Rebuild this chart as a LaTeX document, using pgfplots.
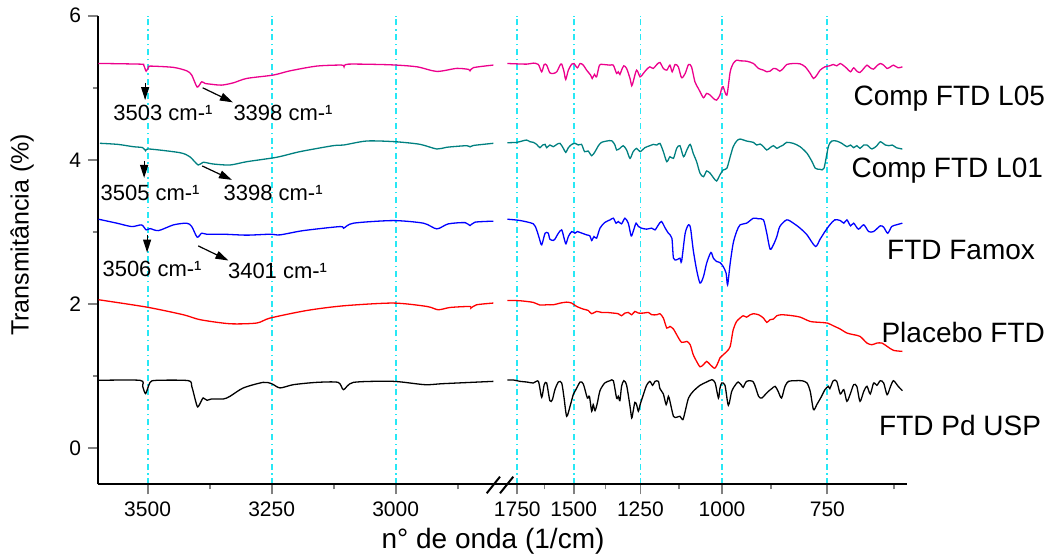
\documentclass[border=0pt]{standalone}
\usepackage{fontspec}
\setmainfont{Liberation Sans}
\usepackage{pgfplots}
\pgfplotsset{compat=1.18}
\usetikzlibrary{arrows.meta}

\definecolor{tealc}{RGB}{0,128,128}
\definecolor{gridc}{RGB}{40,232,245}

\pgfplotsset{
  ftir/.style={
    scale only axis, height=234.3pt, ymin=-0.5, ymax=6,
    axis x line*=bottom, x dir=reverse,
    tick align=outside, major tick length=5pt, minor tick length=2.5pt,
    tick style={line width=0.9pt},
    axis line style={line width=1pt},
    xmajorgrids,
    grid style={draw=gridc, line width=0.9pt, dash pattern=on 3pt off 1.8pt on 0.8pt off 1.8pt},
    major grid style={draw=gridc},
    tick label style={font=\fontsize{10.5}{12}\selectfont},
    /pgf/number format/assume math mode=true,
    /pgf/number format/1000 sep={},
    clip=false,
    every axis plot/.append style={line width=0.65pt, no marks, smooth, tension=0.45},
  },
}
\tikzset{
  note/.style={font=\fontsize{11}{13}\selectfont},
  pk/.style={-{Triangle[length=6.5pt,width=4pt]}, line width=0.6pt},
}

\begin{document}
\begin{tikzpicture}
\path[use as bounding box] (0,0) rectangle (529pt,278pt);

% left segment: 3600-2800 cm-1
\begin{axis}[ftir, at={(49pt,35.85pt)}, anchor=south west, width=199.65pt,
  xmin=2795, xmax=3600, axis y line*=left,
  xtick={3000,3250,3500}, minor xtick={2875,3125,3375},
  ytick={0,2,4,6}, minor ytick={1,3,5}]
\addplot[magenta] coordinates {
(3599,5.338) (3515,5.328) (3508,5.315) (3503,5.231) (3498,5.285) (3495,5.301) (3448,5.283)
(3421,5.235) (3411,5.176) (3400,5.010) (3391,5.083) (3384,5.060) (3374,5.051) (3351,5.037)
(3327,5.069) (3300,5.130) (3247,5.176) (3213,5.235) (3159,5.301) (3109,5.315) (3104,5.291)
(3095,5.328) (3011,5.319) (2957,5.291) (2917,5.227) (2877,5.269) (2853,5.255) (2850,5.235)
(2843,5.280) (2803,5.315)};
\addplot[tealc] coordinates {
(3596,4.230) (3560,4.215) (3529,4.183) (3510,4.170) (3504,4.127) (3497,4.151) (3435,4.100)
(3415,4.044) (3398,3.929) (3388,3.967) (3368,3.943) (3334,3.929) (3300,3.975) (3240,4.036)
(3193,4.114) (3126,4.197) (3105,4.206) (3058,4.262) (3001,4.252) (2951,4.216) (2917,4.151)
(2897,4.175) (2857,4.197) (2850,4.180) (2843,4.200) (2803,4.230)};
\addplot[blue] coordinates {
(3599,3.177) (3562,3.122) (3532,3.075) (3512,3.098) (3503,3.029) (3495,3.047) (3478,3.019)
(3448,3.098) (3421,3.122) (3411,3.075) (3400,2.928) (3391,2.983) (3381,2.969) (3347,2.969)
(3300,2.956) (3253,2.969) (3233,2.960) (3186,3.019) (3112,3.075) (3105,3.052) (3085,3.122)
(3005,3.158) (2944,3.122) (2917,3.043) (2894,3.112) (2860,3.130) (2850,3.089) (2840,3.136)
(2803,3.150)};
\addplot[red] coordinates {
(3599,2.060) (3502,1.958) (3428,1.852) (3394,1.783) (3334,1.727) (3280,1.737) (3253,1.806)
(3179,1.911) (3105,1.976) (3005,2.014) (2937,1.967) (2914,1.921) (2890,1.953) (2850,1.967)
(2848,1.945) (2837,1.990) (2803,2.014)};
\addplot[black] coordinates {
(3599,0.942) (3515,0.942) (3510,0.859) (3504,0.758) (3495,0.914) (3482,0.942) (3418,0.938)
(3411,0.859) (3404,0.675) (3399,0.573) (3392,0.651) (3388,0.698) (3380,0.665) (3371,0.684)
(3347,0.684) (3334,0.720) (3307,0.837) (3267,0.914) (3250,0.896) (3233,0.837) (3206,0.882)
(3159,0.914) (3116,0.914) (3105,0.813) (3085,0.914) (3005,0.928) (2941,0.882) (2904,0.896)
(2803,0.928)};
% peak notes
\draw[pk] (axis cs:3505,5.069) -- (axis cs:3505,4.830);
\node[note] at (axis cs:3469,4.650) {3503 cm-¹};
\draw[pk] (axis cs:3389,5.000) -- (axis cs:3328,4.798);
\node[note] at (axis cs:3227,4.650) {3398 cm-¹};
\draw[pk] (axis cs:3507,3.985) -- (axis cs:3507,3.749);
\node[note] at (axis cs:3495,3.542) {3505 cm-¹};
\draw[pk] (axis cs:3390,3.916) -- (axis cs:3330,3.722);
\node[note] at (axis cs:3247,3.542) {3398 cm-¹};
\draw[pk] (axis cs:3501,2.960) -- (axis cs:3501,2.715);
\node[note] at (axis cs:3491,2.482) {3506 cm-¹};
\draw[pk] (axis cs:3398,2.807) -- (axis cs:3337,2.604);
\node[note] at (axis cs:3238,2.454) {3401 cm-¹};
\end{axis}

% right segment: 1800-600 cm-1
\begin{axis}[ftir, at={(253.5pt,35.85pt)}, anchor=south west, width=199.8pt,
  xmode=log, xmin=604, xmax=1800, axis y line=none, ytick=\empty,
  xtick={750,1000,1250,1500,1750}, xticklabels={750,1000,1250,1500,1750},
  minor xtick={625,875,1125,1375,1625}]
\addplot[magenta] coordinates {
(1798,5.337) (1706,5.328) (1675,5.342) (1652,5.323) (1637,5.222) (1626,5.323) (1615,5.314)
(1601,5.208) (1586,5.199) (1571,5.222) (1557,5.314) (1550,5.328) (1540,5.222) (1533,5.115)
(1522,5.245) (1508,5.328) (1499,5.337) (1485,5.277) (1474,5.337) (1461,5.314) (1448,5.245)
(1432,5.175) (1426,5.129) (1417,5.185) (1409,5.152) (1398,5.314) (1384,5.323) (1358,5.314)
(1346,5.314) (1334,5.199) (1328,5.222) (1322,5.185) (1316,5.245) (1308,5.305) (1298,5.268)
(1286,5.129) (1280,5.028) (1275,5.083) (1263,5.245) (1251,5.152) (1240,5.199) (1229,5.254)
(1218,5.291) (1207,5.268) (1195,5.323) (1185,5.351) (1174,5.268) (1163,5.245) (1153,5.314)
(1146,5.222) (1137,5.323) (1127,5.291) (1117,5.139) (1106,5.199) (1096,5.323) (1087,5.291)
(1077,5.083) (1067,4.991) (1062,4.945) (1052,4.862) (1043,4.922) (1033,4.898) (1024,4.852)
(1015,4.829) (1006,4.898) (1001,4.991) (997,5.014) (987,4.898) (978,5.222) (970,5.337)
(961,5.383) (952,5.374) (935,5.369) (918,5.337) (905,5.268) (893,5.245) (885,5.222)
(877,5.231) (869,5.268) (861,5.259) (854,5.231) (846,5.268) (838,5.323) (823,5.337)
(808,5.332) (797,5.291) (786,5.199) (779,5.129) (772,5.175) (765,5.245) (755,5.291)
(745,5.305) (738,5.323) (731,5.305) (724,5.337) (717,5.305) (711,5.268) (704,5.222)
(698,5.277) (692,5.231) (686,5.212) (679,5.268) (673,5.314) (667,5.277) (661,5.259)
(655,5.305) (649,5.337) (643,5.314) (637,5.268) (631,5.291) (626,5.314) (618,5.277)
(611,5.291)};
\addplot[tealc] coordinates {
(1798,4.238) (1753,4.243) (1728,4.261) (1706,4.275) (1690,4.252) (1675,4.243) (1660,4.215)
(1645,4.169) (1633,4.206) (1622,4.215) (1615,4.169) (1601,4.206) (1586,4.183) (1571,4.215)
(1557,4.229) (1543,4.160) (1533,4.104) (1522,4.169) (1508,4.215) (1494,4.229) (1481,4.206)
(1468,4.215) (1456,4.114) (1442,4.123) (1428,4.058) (1415,4.114) (1402,4.197) (1390,4.243)
(1371,4.261) (1352,4.266) (1340,4.206) (1334,4.137) (1322,4.160) (1310,4.197) (1298,4.137)
(1286,4.021) (1275,4.114) (1263,4.160) (1251,4.114) (1235,4.169) (1218,4.197) (1207,4.215)
(1195,4.206) (1185,4.229) (1174,4.114) (1163,3.975) (1153,4.044) (1142,4.021) (1132,4.160)
(1122,4.197) (1111,4.044) (1101,4.137) (1091,4.215) (1082,4.091) (1072,3.975) (1062,3.814)
(1052,3.767) (1043,3.846) (1033,3.814) (1024,3.754) (1015,3.707) (1006,3.790) (997,3.860)
(987,3.883) (978,4.044) (970,4.183) (961,4.261) (952,4.289) (935,4.261) (918,4.243)
(910,4.206) (901,4.220) (893,4.183) (885,4.137) (877,4.169) (869,4.197) (861,4.160)
(854,4.183) (846,4.206) (838,4.243) (823,4.229) (808,4.183) (793,4.091) (782,3.975)
(775,3.883) (765,3.869) (757,3.883) (748,4.183) (741,4.261) (731,4.261) (721,4.229)
(711,4.183) (704,4.206) (698,4.169) (692,4.197) (686,4.160) (679,4.206) (673,4.206)
(664,4.151) (655,4.197) (649,4.252) (640,4.206) (634,4.197) (628,4.206) (621,4.169)
(611,4.151)};
\addplot[blue] coordinates {
(1798,3.177) (1737,3.159) (1675,3.113) (1660,3.029) (1648,2.914) (1637,2.822) (1622,2.983)
(1608,2.983) (1601,2.900) (1586,2.882) (1579,2.900) (1564,2.983) (1550,3.029) (1540,2.914)
(1532,2.836) (1522,2.937) (1508,3.006) (1495,2.983) (1485,3.006) (1474,2.993) (1448,2.960)
(1435,2.946) (1428,2.882) (1419,2.937) (1409,2.914) (1396,3.053) (1378,3.131) (1358,3.168)
(1346,3.191) (1336,3.122) (1328,3.145) (1316,3.113) (1304,3.191) (1292,3.122) (1282,2.946)
(1275,3.006) (1265,3.122) (1257,3.076) (1246,3.053) (1229,3.039) (1212,3.053) (1201,3.029)
(1190,3.099) (1180,3.145) (1168,3.053) (1158,2.983) (1147,2.914) (1142,2.637) (1132,2.614)
(1122,2.637) (1117,2.591) (1106,2.983) (1096,3.099) (1090,3.053) (1082,2.752) (1072,2.475)
(1062,2.291) (1052,2.383) (1043,2.568) (1031,2.716) (1024,2.637) (1015,2.591) (1006,2.577)
(997,2.522) (989,2.429) (985,2.268) (978,2.568) (970,2.845) (961,3.006) (952,3.099)
(935,3.122) (918,3.191) (905,3.182) (893,3.168) (885,2.983) (877,2.762) (869,2.822)
(861,2.937) (854,3.076) (838,3.168) (823,3.122) (808,3.053) (793,2.960) (775,2.799)
(765,2.900) (755,3.006) (745,3.099) (735,3.168) (724,3.159) (717,3.122) (711,3.168)
(704,3.085) (698,3.122) (689,3.039) (679,3.099) (670,3.006) (661,3.006) (649,3.085)
(643,3.066) (636,2.983) (629,3.076) (621,3.099) (611,3.122)};
\addplot[red] coordinates {
(1798,2.050) (1737,2.046) (1675,2.023) (1645,1.986) (1615,1.990) (1586,1.990) (1557,2.013)
(1529,2.027) (1508,2.013) (1488,1.967) (1461,1.930) (1442,1.912) (1428,1.866) (1409,1.898)
(1390,1.884) (1371,1.884) (1346,1.875) (1328,1.866) (1316,1.838) (1304,1.875) (1292,1.884)
(1280,1.852) (1269,1.898) (1257,1.875) (1240,1.875) (1223,1.884) (1212,1.852) (1195,1.852)
(1185,1.866) (1174,1.806) (1163,1.667) (1153,1.690) (1142,1.653) (1132,1.575) (1117,1.469)
(1101,1.482) (1091,1.436) (1082,1.298) (1072,1.205) (1062,1.130) (1052,1.160) (1043,1.205)
(1033,1.160) (1020,1.110) (1010,1.200) (1006,1.252) (987,1.344) (978,1.413) (970,1.644)
(961,1.759) (952,1.806) (944,1.838) (935,1.819) (926,1.852) (918,1.866) (905,1.852)
(893,1.806) (885,1.746) (877,1.783) (869,1.792) (861,1.838) (850,1.852) (830,1.842)
(808,1.819) (786,1.759) (765,1.746) (750,1.736) (738,1.699) (724,1.653) (711,1.598)
(698,1.575) (686,1.552) (673,1.459) (664,1.436) (655,1.459) (646,1.459) (637,1.413)
(626,1.358) (611,1.344)};
\addplot[black] coordinates {
(1798,0.947) (1769,0.947) (1737,0.928) (1706,0.919) (1675,0.905) (1652,0.928) (1637,0.707)
(1626,0.882) (1615,0.905) (1601,0.660) (1590,0.674) (1579,0.813) (1564,0.919) (1550,0.905)
(1540,0.697) (1529,0.443) (1515,0.582) (1501,0.753) (1491,0.813) (1474,0.919) (1461,0.891)
(1445,0.697) (1437,0.720) (1428,0.513) (1422,0.605) (1415,0.522) (1406,0.628) (1396,0.799)
(1378,0.905) (1358,0.937) (1346,0.937) (1334,0.697) (1328,0.720) (1322,0.660) (1316,0.859)
(1308,0.937) (1298,0.873) (1286,0.582) (1280,0.420) (1275,0.513) (1269,0.637) (1263,0.605)
(1257,0.513) (1251,0.605) (1240,0.743) (1229,0.873) (1218,0.928) (1209,0.873) (1201,0.928)
(1190,0.928) (1185,0.827) (1174,0.753) (1165,0.605) (1158,0.720) (1153,0.651) (1142,0.443)
(1132,0.430) (1122,0.443) (1113,0.397) (1106,0.513) (1096,0.697) (1082,0.790) (1062,0.873)
(1043,0.919) (1028,0.951) (1019,0.905) (1010,0.697) (1006,0.827) (1001,0.905) (992,0.873)
(983,0.596) (974,0.790) (965,0.873) (957,0.919) (948,0.873) (944,0.845) (935,0.928)
(918,0.919) (905,0.720) (897,0.697) (889,0.743) (881,0.790) (873,0.827) (865,0.859)
(858,0.790) (850,0.697) (842,0.859) (834,0.928) (819,0.937) (804,0.937) (793,0.905)
(786,0.790) (779,0.536) (772,0.605) (762,0.720) (755,0.813) (748,0.859) (745,0.827)
(738,0.937) (731,0.928) (724,0.753) (717,0.813) (711,0.651) (704,0.763) (698,0.882)
(692,0.859) (686,0.651) (679,0.790) (673,0.859) (667,0.753) (661,0.905) (655,0.873)
(649,0.937) (643,0.905) (637,0.743) (631,0.859) (626,0.937) (618,0.859) (611,0.799)};
\end{axis}

% axis break
\draw[line width=1pt] (248pt,35.85pt) -- (254pt,35.85pt);
\draw[line width=1pt] (243.35pt,31.35pt) -- (250pt,39.65pt);
\draw[line width=1pt] (250pt,31.35pt) -- (256.65pt,39.65pt);

% series names
\begin{scope}[font=\fontsize{14}{16}\selectfont]
\node[anchor=east] at (526pt,228.5pt) {Comp FTD L05};
\node[anchor=east] at (525pt,192.5pt) {Comp FTD L01};
\node[anchor=east] at (521pt,153pt) {FTD Famox};
\node[anchor=east] at (526pt,112pt) {Placebo FTD};
\node[anchor=east] at (524pt,65.5pt) {FTD Pd USP};
\end{scope}

% axis titles
\node[font=\fontsize{14}{16}\selectfont] at (246.5pt,7.5pt) {n° de onda (1/cm)};
\node[font=\fontsize{12.5}{15}\selectfont, rotate=90] at (11pt,160.5pt) {Transmitância (\%)};
\end{tikzpicture}
\end{document}
